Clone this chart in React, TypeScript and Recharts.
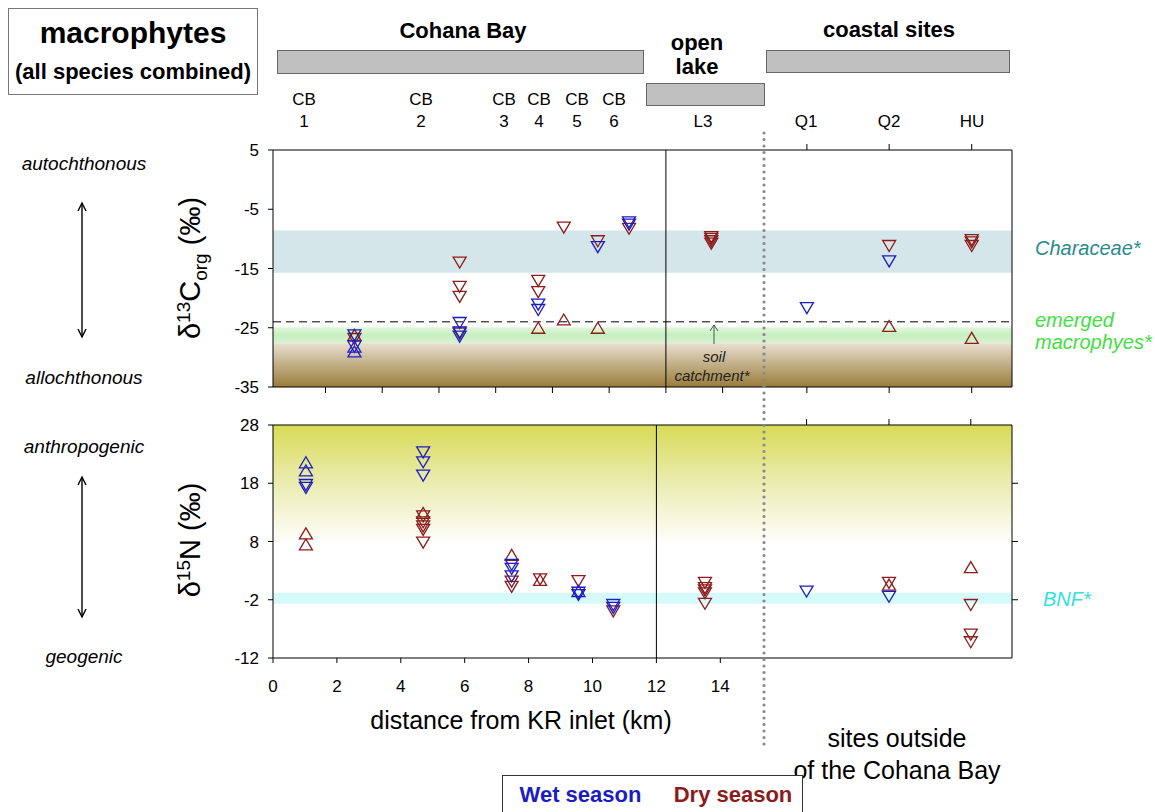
import React from 'react'
import { ScatterChart, Scatter, XAxis, YAxis, ReferenceArea, ReferenceLine } from 'recharts'

// sampling sites and their position on each panel's x axis (km from KR inlet; coastal sites are just slots)
const sites = ['CB1', 'CB2', 'CB3', 'CB4', 'CB5', 'CB6', 'L3', 'Q1', 'Q2', 'HU']
const siteXUpper = [1.02, 4.73, 7.5, 8.4, 9.6, 10.7, 13.6, 16.97, 19.87, 22.78]
const siteXLower = [1.03, 4.7, 7.47, 8.36, 9.56, 10.65, 13.52, 16.7, 19.28, 21.84]

const kmTicks = [0, 2, 4, 6, 8, 10, 12, 14]
const c13Ticks = [5, -5, -15, -25, -35]
const n15Ticks = [28, 18, 8, -2, -12]
const n15RightTicks = [18, 8, -2]

// [site, value, marker]  'v' = down triangle, '^' = up triangle
const c13Wet = [
  ['CB1', -26.3, 'v'], ['CB1', -28.2, 'v'], ['CB1', -28.2, '^'], ['CB1', -29.0, '^'],
  ['CB2', -24.2, 'v'], ['CB2', -25.8, 'v'], ['CB2', -26.5, 'v'],
  ['CB3', -21.1, 'v'], ['CB3', -22.0, 'v'],
  ['CB5', -11.4, 'v'],
  ['CB6', -7.2, 'v'], ['CB6', -7.6, 'v'],
  ['Q1', -21.7, 'v'],
  ['Q2', -13.8, 'v'],
]
const c13Dry = [
  ['CB1', -26.2, '^'], ['CB1', -26.9, 'v'],
  ['CB2', -14.0, 'v'], ['CB2', -18.1, 'v'], ['CB2', -19.8, 'v'], ['CB2', -26.0, 'v'],
  ['CB3', -17.1, 'v'], ['CB3', -19.0, 'v'], ['CB3', -25.0, '^'],
  ['CB4', -8.1, 'v'], ['CB4', -23.6, '^'],
  ['CB5', -10.4, 'v'], ['CB5', -25.0, '^'],
  ['CB6', -8.3, 'v'],
  ['L3', -9.7, 'v'], ['L3', -10.0, 'v'], ['L3', -10.4, 'v'], ['L3', -10.8, 'v'],
  ['Q2', -11.2, 'v'], ['Q2', -24.7, '^'],
  ['HU', -10.2, 'v'], ['HU', -10.6, 'v'], ['HU', -11.2, 'v'], ['HU', -26.7, '^'],
]
const n15Wet = [
  ['CB1', 21.6, '^'], ['CB1', 20.2, '^'], ['CB1', 17.7, 'v'], ['CB1', 17.2, 'v'],
  ['CB2', 23.3, 'v'], ['CB2', 21.6, 'v'], ['CB2', 19.3, 'v'],
  ['CB3', 4.0, 'v'], ['CB3', 3.3, 'v'], ['CB3', 2.0, 'v'],
  ['CB5', -0.5, '^'], ['CB5', -0.8, 'v'], ['CB5', -1.2, 'v'],
  ['CB6', -2.9, 'v'], ['CB6', -3.4, 'v'],
  ['Q1', -0.6, 'v'],
  ['Q2', -1.5, 'v'],
]
const n15Dry = [
  ['CB1', 9.4, '^'], ['CB1', 7.5, '^'],
  ['CB2', 12.9, '^'], ['CB2', 12.3, 'v'], ['CB2', 11.3, 'v'], ['CB2', 10.6, 'v'], ['CB2', 10.0, 'v'], ['CB2', 7.8, 'v'],
  ['CB3', 5.7, '^'], ['CB3', 1.1, 'v'], ['CB3', 0.2, 'v'],
  ['CB4', 1.5, 'v'], ['CB4', 1.4, '^'],
  ['CB5', 1.2, 'v'],
  ['CB6', -4.0, 'v'],
  ['L3', 0.9, 'v'], ['L3', 0.0, 'v'], ['L3', -0.4, 'v'], ['L3', -0.9, 'v'], ['L3', -2.7, 'v'],
  ['Q2', 0.6, '^'], ['Q2', 0.9, 'v'],
  ['HU', 3.6, '^'], ['HU', -2.9, 'v'], ['HU', -8.0, 'v'], ['HU', -9.3, 'v'],
]

const WET = '#1c1cc4'
const DRY = '#8c1c1c'
const FONT = 'Arial, "Liberation Sans", sans-serif'

const toPoints = (rows: any[], siteX: number[]) =>
  rows.map(([site, v, m]) => ({ x: siteX[sites.indexOf(site)], y: v, m }))

const coastal = (siteX: number[]) => siteX.slice(7)

function Tri(props: any) {
  const { cx, cy, payload, color } = props
  if (cx == null || cy == null) return null
  const w = 6.5
  const h = 5.5
  const pts = payload.m === '^'
    ? `${cx - w},${cy + h} ${cx + w},${cy + h} ${cx},${cy - h}`
    : `${cx - w},${cy - h} ${cx + w},${cy - h} ${cx},${cy + h}`
  return <polygon points={pts} fill="none" stroke={color} strokeWidth={1.3} />
}

// tick marks without labels (tick={false} drops the marks too)
const NoLabel = () => <g />

const tickStyle = { fontSize: 17, fill: '#000', fontFamily: FONT }

// axes get 1px of room each, margins make the plot box land at x 273..1012
function UpperPanel() {
  return (
    <ScatterChart width={1155} height={400} margin={{ top: 149, right: 142, bottom: 12, left: 272 }}>
      <defs>
        <linearGradient id="soilGrad" x1="0" y1="0" x2="0" y2="1">
          <stop offset="0%" stopColor="#e8dfd0" />
          <stop offset="100%" stopColor="#9a7c3a" />
        </linearGradient>
        <linearGradient id="emergGrad" x1="0" y1="0" x2="0" y2="1">
          <stop offset="0%" stopColor="#e2f7dc" />
          <stop offset="50%" stopColor="#c6efbf" />
          <stop offset="100%" stopColor="#d9f1d2" />
        </linearGradient>
      </defs>
      <ReferenceArea xAxisId="b" yAxisId="l" y1={-8.6} y2={-15.7} fill="#d4e6ea" fillOpacity={1} stroke="none" />
      <ReferenceArea xAxisId="b" yAxisId="l" y1={-24.9} y2={-27.6} fill="url(#emergGrad)" fillOpacity={1} stroke="none" />
      <ReferenceArea xAxisId="b" yAxisId="l" y1={-27.6} y2={-35} fill="url(#soilGrad)" fillOpacity={1} stroke="none" />
      <XAxis xAxisId="b" dataKey="x" type="number" domain={[-1.85, 24.2]} allowDataOverflow
        ticks={[...kmTicks, ...coastal(siteXUpper)]} tick={<NoLabel />} tickSize={6} height={1}
        stroke="#000" />
      <XAxis xAxisId="t" dataKey="x" type="number" orientation="top" domain={[-1.85, 24.2]} allowDataOverflow
        ticks={coastal(siteXUpper)} tick={<NoLabel />} tickSize={6} height={1} stroke="#000" />
      <YAxis yAxisId="l" dataKey="y" type="number" domain={[-35, 5]} allowDataOverflow ticks={c13Ticks}
        width={1} tickSize={5} tickMargin={9} tick={tickStyle} stroke="#000" />
      <YAxis yAxisId="r" dataKey="y" type="number" orientation="right" domain={[-35, 5]} allowDataOverflow
        tick={false} tickLine={false} width={1} stroke="#000" />
      <ReferenceLine xAxisId="b" yAxisId="l" y={-24} stroke="#000" strokeDasharray="8 5" />
      <ReferenceLine xAxisId="b" yAxisId="l" x={12} stroke="#000" />
      <Scatter xAxisId="b" yAxisId="l" data={toPoints(c13Dry, siteXUpper)} isAnimationActive={false}
        shape={(p: any) => <Tri {...p} color={DRY} />} />
      <Scatter xAxisId="b" yAxisId="l" data={toPoints(c13Wet, siteXUpper)} isAnimationActive={false}
        shape={(p: any) => <Tri {...p} color={WET} />} />
    </ScatterChart>
  )
}

function LowerPanel() {
  return (
    <ScatterChart width={1155} height={300} margin={{ top: 24, right: 142, bottom: 41, left: 272 }}>
      <defs>
        <linearGradient id="anthGrad" x1="0" y1="0" x2="0" y2="1">
          <stop offset="0%" stopColor="#d8db55" />
          <stop offset="45%" stopColor="#e9ebaa" />
          <stop offset="100%" stopColor="#ffffff" />
        </linearGradient>
      </defs>
      <ReferenceArea xAxisId="b" yAxisId="l" y1={28} y2={7.5} fill="url(#anthGrad)" fillOpacity={1} stroke="none" />
      <ReferenceArea xAxisId="b" yAxisId="l" y1={-0.8} y2={-2.7} fill="#d6fafa" fillOpacity={1} stroke="none" />
      <XAxis xAxisId="b" dataKey="x" type="number" domain={[0, 23.13]} allowDataOverflow
        ticks={kmTicks} tickSize={5} tickMargin={17} tick={tickStyle} height={1} stroke="#000" />
      <XAxis xAxisId="t" dataKey="x" type="number" orientation="top" domain={[0, 23.13]} allowDataOverflow
        ticks={coastal(siteXLower)} tick={<NoLabel />} tickSize={6} height={1} stroke="#000" />
      <YAxis yAxisId="l" dataKey="y" type="number" domain={[-12, 28]} allowDataOverflow ticks={n15Ticks}
        width={1} tickSize={5} tickMargin={9} tick={tickStyle} stroke="#000" />
      <YAxis yAxisId="r" dataKey="y" type="number" orientation="right" domain={[-12, 28]} allowDataOverflow
        ticks={n15RightTicks} tick={<NoLabel />} tickSize={6} width={1} stroke="#000" />
      <ReferenceLine xAxisId="b" yAxisId="l" x={12} stroke="#000" />
      <Scatter xAxisId="b" yAxisId="l" data={toPoints(n15Dry, siteXLower)} isAnimationActive={false}
        shape={(p: any) => <Tri {...p} color={DRY} />} />
      <Scatter xAxisId="b" yAxisId="l" data={toPoints(n15Wet, siteXLower)} isAnimationActive={false}
        shape={(p: any) => <Tri {...p} color={WET} />} />
    </ScatterChart>
  )
}

const abs = (x: number, y: number, extra: React.CSSProperties = {}): React.CSSProperties => ({
  position: 'absolute', left: x, top: y, transform: 'translate(-50%, -50%)', whiteSpace: 'nowrap', ...extra,
})

const bar = (x1: number, y1: number, x2: number, y2: number): React.CSSProperties => ({
  position: 'absolute', left: x1, top: y1, width: x2 - x1, height: y2 - y1,
  background: '#c0c0c0', border: '1px solid #666', boxSizing: 'border-box',
})

const siteLabels = [
  { top: 'CB', bottom: '1', x: 304 }, { top: 'CB', bottom: '2', x: 421 },
  { top: 'CB', bottom: '3', x: 504 }, { top: 'CB', bottom: '4', x: 539 },
  { top: 'CB', bottom: '5', x: 577 }, { top: 'CB', bottom: '6', x: 614 },
  { top: '', bottom: 'L3', x: 703 }, { top: '', bottom: 'Q1', x: 806 },
  { top: '', bottom: 'Q2', x: 889 }, { top: '', bottom: 'HU', x: 972 },
]

export default function App() {
  const bold = { fontWeight: 700 }
  const it = { fontStyle: 'italic', fontSize: 19 }
  const side = { fontStyle: 'italic', fontSize: 20 }
  return (
    <div style={{ position: 'relative', width: 1155, height: 812, overflow: 'hidden', fontFamily: FONT, background: '#fff' }}>
      <style>{'body{margin:0}'}</style>

      <div style={{ position: 'absolute', left: 0, top: 0 }}><UpperPanel /></div>
      <div style={{ position: 'absolute', left: 0, top: 400 }}><LowerPanel /></div>

      {/* title box */}
      <div style={{ position: 'absolute', left: 8, top: 8, width: 250, height: 87, border: '1px solid #777', boxSizing: 'border-box' }} />
      <div style={abs(133, 33, { ...bold, fontSize: 30 })}>macrophytes</div>
      <div style={abs(133, 72, { ...bold, fontSize: 22 })}>(all species combined)</div>

      {/* site groups */}
      <div style={abs(463, 31, { ...bold, fontSize: 22 })}>Cohana Bay</div>
      <div style={bar(277, 50, 644, 74)} />
      <div style={abs(697, 43, { ...bold, fontSize: 22 })}>open</div>
      <div style={abs(697, 67, { ...bold, fontSize: 22 })}>lake</div>
      <div style={bar(646, 83, 765, 106)} />
      <div style={abs(889, 30, { ...bold, fontSize: 22 })}>coastal sites</div>
      <div style={bar(766, 50, 1010, 73)} />
      {siteLabels.map(s => (
        <React.Fragment key={s.x}>
          {s.top && <div style={abs(s.x, 100, { fontSize: 17 })}>{s.top}</div>}
          <div style={abs(s.x, 122, { fontSize: 17 })}>{s.bottom}</div>
        </React.Fragment>
      ))}

      {/* left interpretation labels */}
      <div style={abs(84, 164, it)}>autochthonous</div>
      <div style={abs(84, 378, it)}>allochthonous</div>
      <div style={abs(84, 447, it)}>anthropogenic</div>
      <div style={abs(84, 657, it)}>geogenic</div>

      {/* right band labels */}
      <div style={{ position: 'absolute', left: 1035, top: 237, ...side, color: '#2a8c8c' }}>Characeae*</div>
      <div style={{ position: 'absolute', left: 1035, top: 309, ...side, color: '#3fe03f' }}>emerged</div>
      <div style={{ position: 'absolute', left: 1035, top: 331, ...side, color: '#3fe03f' }}>macrophyes*</div>
      <div style={{ position: 'absolute', left: 1043, top: 588, ...side, color: '#33e0e0' }}>BNF*</div>

      {/* soil catchment note */}
      <div style={abs(714, 356, { fontStyle: 'italic', fontSize: 15, color: '#222' })}>soil</div>
      <div style={abs(712, 375, { fontStyle: 'italic', fontSize: 15, color: '#222' })}>catchment*</div>

      {/* x titles */}
      <div style={abs(521, 720, { fontSize: 25 })}>distance from KR inlet (km)</div>
      <div style={abs(897, 738, { fontSize: 25 })}>sites outside</div>
      <div style={abs(897, 770, { fontSize: 25 })}>of the Cohana Bay</div>

      {/* legend */}
      <div style={{ position: 'absolute', left: 502, top: 775, width: 301, height: 50, border: '1px solid #333', boxSizing: 'border-box', background: '#fff' }} />
      <div style={abs(580.5, 795, { ...bold, fontSize: 22, color: WET })}>Wet season</div>
      <div style={abs(733, 795, { ...bold, fontSize: 22, color: DRY })}>Dry season</div>

      <svg width={1155} height={812} style={{ position: 'absolute', left: 0, top: 0, pointerEvents: 'none' }}>
        {/* separator between lake and coastal sites */}
        <line x1={764} y1={133} x2={764} y2={748} stroke="#8a8a8a" strokeWidth={3.2} strokeDasharray="0 6.5" strokeLinecap="round" />
        {/* double arrows */}
        {[[203, 337], [477, 617]].map(([a, b]) => (
          <g key={a} stroke="#000" strokeWidth={1.4} fill="none">
            <line x1={82} y1={a} x2={82} y2={b} />
            <polyline points={`78,${a + 8} 82,${a} 86,${a + 8}`} />
            <polyline points={`78,${b - 8} 82,${b} 86,${b - 8}`} />
          </g>
        ))}
        {/* soil catchment arrow */}
        <g stroke="#3e5e4e" strokeWidth={1} fill="none">
          <line x1={714} y1={325} x2={714} y2={344} />
          <polyline points="710,331 714,325 718,331" />
        </g>
        {/* y axis titles */}
        <text transform="translate(200,268) rotate(-90)" textAnchor="middle" fontFamily={FONT} fontSize={29}>
          δ<tspan dy={-10} fontSize={19}>13</tspan><tspan dy={10}>C</tspan><tspan dy={7} fontSize={19}>org</tspan><tspan dy={-7}> (‰)</tspan>
        </text>
        <text transform="translate(200,540) rotate(-90)" textAnchor="middle" fontFamily={FONT} fontSize={29}>
          δ<tspan dy={-10} fontSize={19}>15</tspan><tspan dy={10}>N (‰)</tspan>
        </text>
      </svg>
    </div>
  )
}
